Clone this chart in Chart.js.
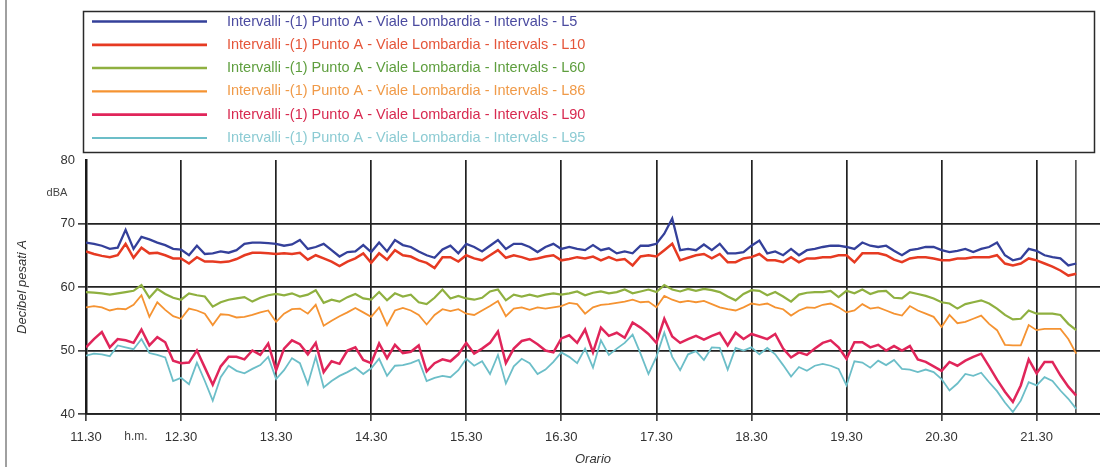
<!DOCTYPE html>
<html>
<head>
<meta charset="utf-8">
<script src="https://cdn.jsdelivr.net/npm/chart.js@4.4.1/dist/chart.umd.min.js"></script>
<style>
    html, body { margin: 0; padding: 0; background: #fff; }
    #wrap { position: relative; width: 1100px; height: 467px; }
</style>
</head>
<body>
<div id="wrap"><canvas id="noise-chart"></canvas></div>
<script>
// --- Data (5-minute intervals from 11.30) ---
const SAMPLE_STEP = 5; // minutes between samples
const hourLabels = ['11.30', '12.30', '13.30', '14.30', '15.30', '16.30', '17.30', '18.30', '19.30', '20.30', '21.30'];
const seriesNames = [
    'Intervalli -(1) Punto A - Viale Lombardia - Intervals - L5',
    'Intervalli -(1) Punto A - Viale Lombardia - Intervals - L10',
    'Intervalli -(1) Punto A - Viale Lombardia - Intervals - L60',
    'Intervalli -(1) Punto A - Viale Lombardia - Intervals - L86',
    'Intervalli -(1) Punto A - Viale Lombardia - Intervals - L90',
    'Intervalli -(1) Punto A - Viale Lombardia - Intervals - L95'
];

const L5 = [
    67.0, 66.8, 66.5, 66.0, 66.2, 69.0, 66.0, 67.9, 67.5, 67.0, 66.6, 66.0, 65.9, 65.0, 66.5, 65.2, 65.3, 65.6, 65.4, 65.8, 66.8, 67.0, 67.0, 66.9, 66.8,
    66.5, 66.7, 67.4, 66.0, 66.3, 66.8, 65.8, 64.8, 65.5, 65.6, 66.6, 65.5, 67.0, 65.6, 67.4, 66.6, 66.3, 65.6, 65.0, 64.6, 65.9, 66.5, 65.3, 66.8, 66.3,
    65.6, 66.5, 67.4, 66.0, 66.8, 66.8, 66.3, 65.5, 66.3, 66.8, 66.0, 66.3, 66.0, 65.8, 66.6, 65.8, 66.1, 65.3, 65.6, 65.3, 66.5, 66.5, 66.8, 68.4, 70.8, 65.8,
    66.0, 65.8, 66.7, 65.8, 66.8, 65.3, 65.3, 65.5, 66.5, 67.3, 65.3, 65.6, 65.0, 66.0, 65.0, 65.8, 66.0, 66.3, 66.5, 66.5, 66.3, 66.0, 67.0, 66.5, 66.3,
    66.5, 65.7, 65.0, 65.8, 66.0, 66.3, 66.3, 65.8, 65.5, 65.7, 66.0, 65.5, 66.0, 66.3, 67.0, 65.0, 64.2, 64.5, 66.0, 65.7, 65.0, 64.7, 64.5, 63.4, 63.7
];
const L10 = [
    65.6, 65.2, 64.9, 64.7, 65.0, 66.8, 64.6, 66.2, 65.3, 65.4, 65.0, 64.5, 64.5, 63.7, 64.7, 64.0, 64.0, 63.9, 64.0, 64.4, 65.0, 65.4, 65.4, 65.3, 65.2,
    65.3, 65.2, 65.4, 64.3, 65.0, 64.5, 64.0, 63.3, 64.0, 64.5, 65.3, 63.8, 65.3, 64.3, 65.8, 65.0, 64.8, 64.2, 63.8, 63.0, 64.7, 64.7, 64.0, 65.0, 64.5,
    64.2, 65.0, 65.8, 64.6, 65.0, 64.7, 64.3, 64.5, 64.8, 65.0, 64.2, 64.4, 64.7, 64.5, 64.8, 64.2, 64.7, 64.2, 64.4, 63.4, 64.8, 65.0, 64.8, 65.8, 66.8, 64.2,
    64.6, 65.0, 65.2, 64.5, 65.2, 63.9, 63.9, 64.5, 64.7, 65.2, 64.2, 64.2, 63.9, 64.7, 63.9, 64.5, 64.5, 64.7, 64.7, 65.0, 65.0, 63.9, 65.3, 65.3, 65.3,
    65.0, 64.3, 63.9, 64.5, 64.7, 64.7, 64.5, 64.2, 64.2, 64.5, 64.5, 64.7, 64.7, 64.7, 65.0, 63.7, 63.4, 63.7, 64.5, 64.2, 63.7, 63.2, 62.6, 61.8, 62.1
];
const L60 = [
    59.2, 59.1, 59.0, 58.8, 59.0, 59.2, 59.4, 60.3, 58.3, 59.7, 58.9, 58.3, 58.0, 59.0, 58.7, 58.5, 56.9, 57.6, 58.0, 58.2, 58.4, 57.7, 58.3, 58.7, 58.9,
    58.7, 59.0, 58.5, 58.8, 59.5, 57.5, 58.0, 57.7, 58.4, 58.9, 58.2, 58.0, 59.2, 57.9, 59.0, 58.5, 58.8, 57.6, 57.3, 58.3, 59.6, 58.2, 58.6, 58.2, 58.0,
    58.3, 59.3, 59.6, 57.9, 58.8, 58.5, 58.8, 58.5, 58.8, 59.0, 58.8, 59.0, 59.3, 58.7, 59.1, 59.3, 59.0, 59.2, 59.6, 59.0, 59.3, 59.6, 59.2, 60.3, 59.6, 59.3,
    59.7, 59.4, 59.7, 59.5, 59.2, 58.5, 57.9, 58.9, 59.5, 59.4, 58.7, 59.2, 58.5, 57.7, 58.8, 59.1, 59.2, 59.2, 59.4, 58.4, 59.4, 59.0, 59.6, 58.9, 59.3,
    59.4, 58.3, 58.2, 59.2, 58.9, 58.6, 58.2, 57.6, 57.4, 56.6, 57.3, 57.6, 57.9, 57.4, 56.6, 55.6, 54.9, 55.0, 56.3, 55.8, 55.8, 55.8, 55.6, 54.2, 53.2
];
const L86 = [
    56.8, 57.0, 56.8, 56.3, 56.6, 56.5, 57.2, 58.7, 55.3, 57.6, 56.4, 55.4, 55.0, 56.6, 56.3, 55.8, 54.0, 55.7, 55.6, 55.2, 55.3, 55.6, 56.0, 56.3, 54.5,
    55.8, 56.5, 56.6, 55.8, 57.2, 53.9, 54.7, 55.4, 56.0, 56.7, 56.0, 55.3, 56.8, 54.0, 56.3, 56.7, 56.3, 55.6, 54.1, 55.6, 56.5, 56.2, 56.5, 55.8, 55.6,
    56.3, 57.0, 57.8, 55.4, 56.6, 56.8, 56.4, 56.8, 56.6, 56.8, 57.0, 57.5, 57.3, 55.8, 56.8, 57.2, 57.3, 57.5, 57.7, 58.0, 57.6, 57.7, 56.8, 58.6, 58.0, 57.6,
    57.8, 57.6, 57.8, 57.3, 56.8, 56.5, 56.3, 56.8, 57.4, 57.2, 57.4, 56.8, 56.5, 55.5, 56.3, 56.8, 56.7, 57.2, 57.4, 56.8, 56.0, 56.3, 57.3, 56.6, 56.8,
    56.3, 55.8, 55.5, 57.0, 56.3, 55.8, 55.3, 53.7, 55.6, 54.3, 54.5, 55.0, 55.5, 54.2, 53.2, 50.9, 50.8, 50.8, 54.0, 53.2, 53.4, 53.4, 53.4, 51.8, 49.5
];
const L90 = [
    50.5, 51.8, 52.9, 50.5, 51.8, 51.6, 51.2, 53.3, 50.8, 52.1, 51.3, 48.4, 48.0, 48.1, 50.0, 47.3, 44.6, 47.5, 49.0, 49.0, 48.6, 50.0, 49.3, 51.1, 46.9,
    50.3, 51.6, 51.0, 49.4, 51.2, 46.6, 48.3, 47.9, 50.0, 50.5, 48.5, 48.0, 51.1, 48.8, 50.9, 49.6, 49.8, 50.8, 46.7, 48.0, 48.6, 48.3, 49.4, 51.2, 49.5,
    50.3, 51.2, 53.0, 48.0, 50.3, 51.5, 51.8, 51.0, 50.0, 49.7, 51.9, 52.4, 51.2, 53.3, 49.7, 53.6, 52.3, 52.8, 52.0, 54.4, 53.6, 52.6, 51.2, 55.0, 52.2, 51.2,
    51.8, 52.3, 51.7, 52.3, 52.8, 50.8, 52.8, 51.8, 52.6, 52.2, 51.8, 52.6, 50.3, 48.9, 49.7, 49.3, 50.3, 51.2, 51.6, 50.5, 48.7, 51.3, 51.3, 50.5, 50.9,
    50.0, 50.7, 50.0, 50.7, 48.6, 48.2, 47.5, 46.8, 48.2, 47.6, 48.4, 49.0, 49.5, 47.5, 45.4, 43.5, 41.9, 44.5, 48.6, 46.4, 48.2, 48.2, 46.1, 44.3, 42.9
];
const L95 = [
    49.2, 49.5, 49.4, 49.1, 50.8, 50.5, 50.2, 51.8, 49.6, 49.3, 48.9, 45.2, 45.7, 44.7, 48.1, 45.2, 42.1, 45.8, 47.6, 46.8, 46.4, 47.1, 47.7, 49.0, 45.5,
    46.9, 48.8, 48.0, 44.7, 49.0, 44.2, 45.2, 46.0, 46.6, 47.3, 46.3, 47.2, 48.7, 46.0, 47.6, 47.7, 48.0, 48.5, 45.2, 45.7, 46.0, 45.8, 46.9, 48.7, 47.6,
    48.3, 46.3, 49.3, 44.8, 47.5, 48.7, 48.0, 46.3, 47.0, 48.2, 49.7, 49.0, 48.0, 50.3, 47.3, 51.6, 49.3, 50.3, 51.2, 52.5, 49.5, 46.3, 49.0, 52.8, 49.0, 46.9,
    49.4, 49.9, 48.5, 50.5, 50.4, 47.0, 50.4, 50.0, 50.5, 49.4, 50.4, 49.4, 47.7, 45.9, 47.4, 46.8, 47.6, 47.9, 47.6, 47.1, 44.5, 48.3, 48.1, 47.3, 48.4,
    47.7, 48.5, 47.1, 47.0, 46.6, 47.0, 46.6, 45.5, 43.7, 44.8, 46.3, 46.0, 46.5, 45.0, 43.6, 41.8, 40.3, 42.1, 45.0, 44.5, 45.8, 45.2, 43.7, 42.4, 40.8
];

// --- Styles ---
const lineColors = ['#34409a', '#e63a22', '#8fb040', '#f59332', '#e0255a', '#6cbec8'];
const legendTextColors = ['#4b4ba0', '#e5553a', '#5e9e3e', '#f09a48', '#d82a50', '#8ccbd3'];
const lineWidths = [2.3, 2.5, 2.2, 1.8, 2.5, 1.8];
const FONT = '"Liberation Sans", Arial, sans-serif';
const DATA_END = (L5.length - 1) * SAMPLE_STEP;

Chart.defaults.font.family = FONT;
Chart.defaults.color = '#333';

const sampleMinutes = L5.map((_, i) => i * SAMPLE_STEP);
const allSeries = [L5, L10, L60, L86, L90, L95];

const datasets = allSeries.map((values, k) => ({
    label: seriesNames[k],
    data: values.map((v, i) => ({ x: sampleMinutes[i], y: v })),
    borderColor: lineColors[k],
    borderWidth: lineWidths[k],
    pointRadius: 0,
    tension: 0,
    fill: false
}));

// --- Legend box, unit label and frame drawn on the canvas ---
const decorPlugin = {
    id: 'decor',
    afterDraw(chart) {
        const ctx = chart.ctx;
        ctx.save();
        ctx.strokeStyle = '#a0a0a0';
        ctx.lineWidth = 2;
        ctx.beginPath();
        ctx.moveTo(6, 0);
        ctx.lineTo(6, chart.height);
        ctx.stroke();

        ctx.strokeStyle = '#2a2a2a';
        ctx.lineWidth = 1.5;
        ctx.strokeRect(83.5, 11.5, 1011, 141);

        ctx.font = '14.5px ' + FONT;
        ctx.textBaseline = 'middle';
        chart.data.datasets.forEach((ds, k) => {
            const y = 21.5 + k * 23.3;
            ctx.strokeStyle = ds.borderColor;
            ctx.lineWidth = ds.borderWidth + 0.3;
            ctx.beginPath();
            ctx.moveTo(92, y);
            ctx.lineTo(207, y);
            ctx.stroke();
            ctx.fillStyle = legendTextColors[k];
            ctx.fillText(ds.label, 227, y);
        });

        ctx.fillStyle = '#444';
        ctx.font = '11px ' + FONT;
        ctx.textAlign = 'center';
        ctx.fillText('dBA', 57, 193);
        ctx.font = '12px ' + FONT;
        ctx.fillText('h.m.', 136, 437);
        ctx.restore();
    }
};

new Chart(document.getElementById('noise-chart'), {
    type: 'line',
    data: { datasets: datasets },
    plugins: [decorPlugin],
    options: {
        responsive: true,
        maintainAspectRatio: false,
        animation: false,
        layout: { padding: { top: 160, left: 0, right: 0, bottom: 0 } },
        plugins: {
            legend: { display: false },
            tooltip: { enabled: false }
        },
        scales: {
            x: {
                type: 'linear',
                min: 0,
                max: 640,
                afterBuildTicks: scale => {
                    scale.ticks = hourLabels.map((_, k) => ({ value: k * 60 })).concat({ value: DATA_END });
                },
                afterFit: scale => { scale.height = 53; },
                ticks: {
                    autoSkip: false,
                    maxRotation: 0,
                    padding: 9,
                    color: '#333',
                    font: { size: 13 },
                    callback: (value, index) => hourLabels[index] !== undefined ? hourLabels[index] : ''
                },
                grid: {
                    color: ctx => ctx.tick && ctx.tick.value === DATA_END ? '#555' : '#222',
                    lineWidth: 1.7,
                    tickLength: 7,
                    tickColor: ctx => ctx.tick && ctx.tick.value === DATA_END ? 'rgba(0,0,0,0)' : '#444'
                },
                border: { display: true, color: '#222', width: 1.7 },
                title: {
                    display: true,
                    text: 'Orario',
                    color: '#333',
                    font: { size: 13, style: 'italic' },
                    padding: { top: 1, bottom: 0 }
                }
            },
            y: {
                min: 40,
                max: 80,
                afterFit: scale => { scale.width = 86; },
                ticks: {
                    stepSize: 10,
                    padding: 3,
                    color: '#333',
                    font: { size: 13 }
                },
                grid: {
                    color: ctx => ctx.tick && ctx.tick.value === 80 ? 'rgba(0,0,0,0)' : '#222',
                    lineWidth: 1.7,
                    tickLength: 8,
                    tickColor: ctx => ctx.tick && ctx.tick.value === 80 ? 'rgba(0,0,0,0)' : '#444'
                },
                border: { display: true, color: '#1a1a1a', width: 2.5 },
                title: {
                    display: true,
                    text: 'Decibel pesati A',
                    color: '#333',
                    font: { size: 13, style: 'italic' },
                    padding: { top: 15, bottom: 0 }
                }
            }
        }
    }
});
</script>
</body>
</html>
